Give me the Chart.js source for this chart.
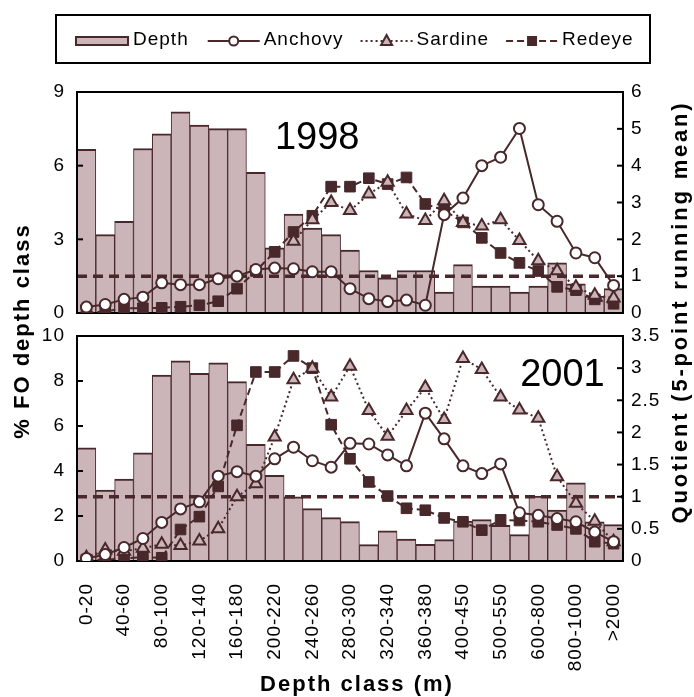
<!DOCTYPE html>
<html>
<head>
<meta charset="utf-8">
<title>% FO by depth class, 1998 and 2001</title>
<script src="https://cdn.jsdelivr.net/npm/chart.js@4.4.1/dist/chart.umd.min.js"></script>
<style>
  html, body { margin: 0; padding: 0; background: #fff; }
  #chart { display: block; }
</style>
</head>
<body>
<canvas id="chart" width="694" height="697"></canvas>
<script>
// depth classes (m); only every other one is labelled on the axis
const depthClasses = ['0-20', '20-40', '40-60', '60-80', '80-100', '100-120', '120-140', '140-160',
  '160-180', '180-200', '200-220', '220-240', '240-260', '260-280', '280-300', '300-320',
  '320-340', '340-360', '360-380', '380-400', '400-450', '450-500', '500-550', '550-600',
  '600-800', '700-800', '800-1000', '1000-2000', '>2000'];

// % FO per depth class (left axes)
const depth1998 = [6.67, 3.19, 3.73, 6.70, 7.30, 8.19, 7.65, 7.51, 7.51, 5.73, 2.65, 4.03, 3.46, 3.19,
  2.56, 1.73, 1.43, 1.73, 1.73, 0.85, 1.97, 1.10, 1.10, 0.85, 1.10, 2.04, 1.19, 0.69, 0.99];
const depth2001 = [5.03, 3.15, 3.64, 4.81, 8.26, 8.90, 8.34, 8.81, 7.97, 5.19, 3.81, 2.85, 2.33, 1.93,
  1.75, 0.73, 1.34, 0.97, 0.74, 0.95, 1.77, 1.84, 1.59, 1.17, 2.89, 2.26, 3.47, 1.74, 1.62];

// quotients, 5-point running mean (right axes)
const anchovy1998 = [0.16, 0.23, 0.37, 0.43, 0.82, 0.77, 0.77, 0.93, 1.00, 1.18, 1.22, 1.20, 1.12, 1.12,
  0.66, 0.39, 0.31, 0.35, 0.21, 2.67, 3.12, 4.00, 4.23, 5.01, 2.94, 2.49, 1.63, 1.50, 0.75];
const sardine1998 = [null, null, null, null, null, null, null, null, null, null, null, 1.95, 2.53, 3.00,
  2.78, 3.23, 3.55, 2.69, 2.51, 3.05, 2.46, 2.36, 2.53, 1.97, 1.42, 1.15, 0.70, 0.48, 0.41];
const redeye1998 = [0.01, 0.04, 0.13, 0.13, 0.14, 0.17, 0.21, 0.32, 0.66, 1.14, 1.66, 2.20, 2.64, 3.43,
  3.43, 3.66, 3.50, 3.68, 2.96, 2.79, 2.46, 2.04, 1.63, 1.36, 1.14, 0.71, 0.62, 0.37, 0.25];

const anchovy2001 = [0.04, 0.10, 0.21, 0.35, 0.60, 0.81, 0.92, 1.32, 1.39, 1.32, 1.59, 1.77, 1.56, 1.46,
  1.83, 1.82, 1.65, 1.48, 2.30, 1.90, 1.48, 1.36, 1.51, 0.75, 0.71, 0.66, 0.61, 0.45, 0.30];
const sardine2001 = [0.05, 0.17, 0.15, 0.20, 0.26, 0.24, 0.31, 0.50, 1.00, 1.20, 1.93, 2.82, 3.00, 2.55,
  3.03, 2.34, 1.94, 2.34, 2.70, 2.20, 3.15, 2.98, 2.55, 2.35, 2.22, 1.31, 0.90, 0.62, 0.30];
const redeye2001 = [0.02, 0.02, 0.04, 0.06, 0.05, 0.49, 0.69, 1.16, 2.11, 2.94, 2.94, 3.19, 3.00, 2.12,
  1.59, 1.23, 1.01, 0.82, 0.79, 0.67, 0.61, 0.48, 0.64, 0.63, 0.61, 0.56, 0.50, 0.30, 0.27];

const quotientRef = 1;
const years = ['1998', '2001'];

const INK = '#48282b';
const PINK = '#cbb5b9';
const FONT = "'Liberation Sans', Arial, sans-serif";

Chart.defaults.font.family = FONT;
Chart.defaults.font.size = 19;
Chart.defaults.color = '#000';

function barSet(data, axis) {
  return {
    type: 'bar', label: 'Depth', data, yAxisID: axis, order: 10, grouped: false,
    backgroundColor: PINK, borderColor: INK,
    borderWidth: { top: 2, left: 1, right: 1, bottom: 0 },
    barPercentage: 1, categoryPercentage: 1
  };
}
function anchovySet(data, axis) {
  return {
    type: 'line', label: 'Anchovy', data, yAxisID: axis, order: 1,
    borderColor: INK, borderWidth: 2, pointStyle: 'circle', pointRadius: 5.5,
    pointBackgroundColor: '#fff', pointBorderColor: INK, pointBorderWidth: 2
  };
}
function sardineSet(data, axis) {
  return {
    type: 'line', label: 'Sardine', data, yAxisID: axis, order: 2,
    borderColor: INK, borderWidth: 2, borderDash: [2, 3], pointStyle: 'triangle', pointRadius: 7,
    pointBackgroundColor: PINK, pointBorderColor: INK, pointBorderWidth: 2
  };
}
function redeyeSet(data, axis) {
  return {
    type: 'line', label: 'Redeye', data, yAxisID: axis, order: 3,
    borderColor: INK, borderWidth: 2, borderDash: [7, 4], pointStyle: 'rect', pointRadius: 7.5,
    pointBackgroundColor: INK, pointBorderColor: INK, pointBorderWidth: 1
  };
}

function valueAxis(pos, weight, stackWeight, max, step, pad) {
  return {
    type: 'linear', position: pos, stack: pos, stackWeight, weight, min: 0, max,
    ticks: { stepSize: step, padding: pad, autoSkip: false, callback: v => String(+v.toFixed(2)) },
    grid: { display: false }, border: { display: false },
    afterFit(s) { s.width = pos === 'left' ? 77 : 71; }
  };
}
function gapAxis(pos) {
  return { type: 'linear', position: pos, stack: pos, stackWeight: 23, weight: 1, display: false };
}

function line(ctx, x0, y0, x1, y1) {
  ctx.beginPath(); ctx.moveTo(x0, y0); ctx.lineTo(x1, y1); ctx.stroke();
}

// frames, inside tick marks and the quotient = 1 line, drawn over the bars
const panelPlugin = {
  id: 'panels',
  afterDatasetDraw(chart, args) {
    if (args.index !== 0) return;
    const { ctx, chartArea: a, scales } = chart;
    [['yL98', 'yR98'], ['yL01', 'yR01']].forEach(([l, r]) => {
      const yl = scales[l], yr = scales[r];
      ctx.save();
      ctx.strokeStyle = INK;
      ctx.lineWidth = 3.5;
      ctx.setLineDash([10, 6]);
      const yRef = yr.getPixelForValue(quotientRef);
      line(ctx, a.left, yRef, a.right, yRef);
      ctx.setLineDash([]);
      ctx.strokeStyle = '#000';
      ctx.lineWidth = 2;
      yl.ticks.forEach(t => { const y = yl.getPixelForValue(t.value); line(ctx, a.left, y, a.left + 6, y); });
      yr.ticks.forEach(t => { const y = yr.getPixelForValue(t.value); line(ctx, a.right - 6, y, a.right, y); });
      ctx.strokeRect(a.left, yl.top, a.right - a.left, yl.bottom - yl.top);
      ctx.restore();
    });
  }
};

function legendMarker(ctx, style, x, y) {
  ctx.save();
  ctx.strokeStyle = INK;
  ctx.setLineDash([]);
  ctx.beginPath();
  if (style === 'circle') {
    ctx.fillStyle = '#fff'; ctx.lineWidth = 2;
    ctx.arc(x, y, 4.5, 0, Math.PI * 2);
    ctx.fill(); ctx.stroke();
  } else if (style === 'triangle') {
    ctx.fillStyle = PINK; ctx.lineWidth = 2;
    ctx.moveTo(x, y - 6); ctx.lineTo(x + 5.5, y + 4); ctx.lineTo(x - 5.5, y + 4); ctx.closePath();
    ctx.fill(); ctx.stroke();
  } else {
    ctx.fillStyle = INK;
    ctx.fillRect(x - 5, y - 5, 10, 10);
  }
  ctx.restore();
}

// legend box, axis titles and year labels
const textPlugin = {
  id: 'texts',
  beforeDraw(chart) { chart.ctx.letterSpacing = '1px'; },
  afterDraw(chart) {
    const { ctx, chartArea: a, scales } = chart;
    ctx.save();
    ctx.fillStyle = '#000';
    ctx.textBaseline = 'alphabetic';

    // legend
    ctx.strokeStyle = '#000';
    ctx.lineWidth = 2;
    ctx.strokeRect(56, 15, 594, 48);
    ctx.font = '19px ' + FONT;
    ctx.letterSpacing = '1px';
    const ly = 41, base = 45;
    let x = 76;
    ctx.fillStyle = PINK; ctx.fillRect(x, ly - 4, 52, 8);
    ctx.strokeStyle = INK; ctx.lineWidth = 2; ctx.strokeRect(x, ly - 4, 52, 8);
    x += 57;
    ctx.fillStyle = '#000'; ctx.textAlign = 'left';
    ctx.fillText('Depth', x, base);
    x += ctx.measureText('Depth').width + 19;
    const items = [['Anchovy', 'circle', []], ['Sardine', 'triangle', [2, 3]], ['Redeye', 'rect', [7, 4]]];
    items.forEach(([label, style, dash]) => {
      ctx.strokeStyle = INK; ctx.lineWidth = 2; ctx.setLineDash(dash);
      line(ctx, x, ly, x + 52, ly);
      ctx.setLineDash([]);
      legendMarker(ctx, style, x + 26, ly);
      x += 56;
      ctx.fillStyle = '#000';
      ctx.fillText(label, x, base);
      x += ctx.measureText(label).width + 17;
    });

    // year labels
    ctx.letterSpacing = '0px';
    ctx.font = '38px ' + FONT;
    ctx.textAlign = 'center';
    const w = a.right - a.left;
    ctx.fillText(years[0], a.left + w * 0.44, scales.yL98.top + 57);
    ctx.fillText(years[1], a.left + w * 0.889, scales.yL01.top + 50);

    // axis titles
    ctx.font = 'bold 22px ' + FONT;
    ctx.letterSpacing = '2px';
    ctx.fillText('Depth class (m)', 357, 691);
    ctx.save();
    ctx.translate(29, 331);
    ctx.rotate(-Math.PI / 2);
    ctx.fillText('% FO depth class', 0, 0);
    ctx.restore();
    ctx.save();
    ctx.letterSpacing = '2.8px';
    ctx.translate(687, 312);
    ctx.rotate(-Math.PI / 2);
    ctx.fillText('Quotient (5-point running mean)', 0, 0);
    ctx.restore();
    ctx.restore();
  }
};

new Chart(document.getElementById('chart'), {
  type: 'bar',
  data: {
    labels: depthClasses,
    datasets: [
      barSet(depth1998, 'yL98'),
      barSet(depth2001, 'yL01'),
      anchovySet(anchovy1998, 'yR98'),
      sardineSet(sardine1998, 'yR98'),
      redeyeSet(redeye1998, 'yR98'),
      anchovySet(anchovy2001, 'yR01'),
      sardineSet(sardine2001, 'yR01'),
      redeyeSet(redeye2001, 'yR01')
    ]
  },
  options: {
    responsive: false,
    devicePixelRatio: 1,
    animation: false,
    layout: { padding: { top: 92, left: 0, right: 0, bottom: 0 } },
    plugins: { legend: { display: false }, tooltip: { enabled: false } },
    scales: {
      x: {
        offset: true,
        grid: { display: false }, border: { display: false },
        ticks: {
          autoSkip: false, minRotation: 90, maxRotation: 90, padding: 14,
          callback(v, i) { return i % 2 ? '' : depthClasses[i]; }
        },
        afterFit(s) { s.height = 136; }
      },
      yL98: valueAxis('left', 2, 221, 9, 3, 4),
      yLgap: gapAxis('left'),
      yL01: valueAxis('left', 0, 225, 10, 2, 4),
      yR98: valueAxis('right', 0, 221, 6, 1, 0),
      yRgap: gapAxis('right'),
      yR01: valueAxis('right', 2, 225, 3.5, 0.5, 0)
    }
  },
  plugins: [panelPlugin, textPlugin]
});
</script>
</body>
</html>
